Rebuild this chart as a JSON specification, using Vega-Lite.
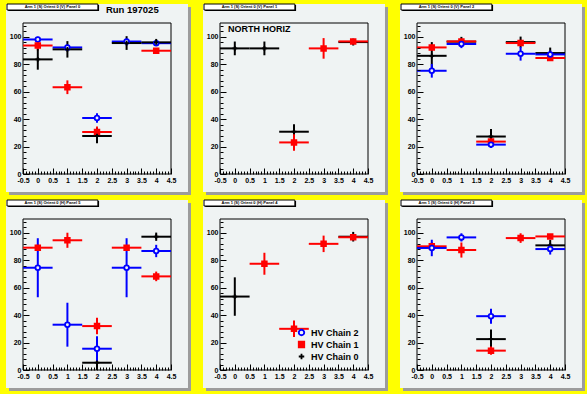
{
"$schema": "https://vega.github.io/schema/vega-lite/v6.json",
"background": "#ffff00",
"padding": {"left": 6, "top": 3, "right": 2, "bottom": 4},
"bounds": "flush",
"columns": 3,
"spacing": {"row": 45, "column": 49},
"datasets": {
"pts": [
{"p":1,"s":"HV Chain 2","x":0,"y":98,"ye":2,"xe":0.5},
{"p":1,"s":"HV Chain 2","x":1,"y":92.2,"ye":2,"xe":0.5},
{"p":1,"s":"HV Chain 2","x":2,"y":40.8,"ye":3.5,"xe":0.5},
{"p":1,"s":"HV Chain 2","x":3,"y":96.5,"ye":2,"xe":0.5},
{"p":1,"s":"HV Chain 2","x":4,"y":95.3,"ye":1.5,"xe":0.5},
{"p":1,"s":"HV Chain 1","x":0,"y":93.6,"ye":3.6,"xe":0.5},
{"p":1,"s":"HV Chain 1","x":1,"y":63.2,"ye":5,"xe":0.5},
{"p":1,"s":"HV Chain 1","x":2,"y":30.6,"ye":4,"xe":0.5},
{"p":1,"s":"HV Chain 1","x":4,"y":89.8,"ye":2,"xe":0.5},
{"p":1,"s":"HV Chain 0","x":0,"y":83.5,"ye":7.5,"xe":0.5},
{"p":1,"s":"HV Chain 0","x":1,"y":90.8,"ye":6,"xe":0.5},
{"p":1,"s":"HV Chain 0","x":2,"y":27.7,"ye":5.3,"xe":0.5},
{"p":1,"s":"HV Chain 0","x":3,"y":95.4,"ye":5,"xe":0.5},
{"p":1,"s":"HV Chain 0","x":4,"y":95.9,"ye":2.5,"xe":0.5},
{"p":2,"s":"HV Chain 0","x":0,"y":91.5,"ye":5,"xe":0.5},
{"p":2,"s":"HV Chain 0","x":1,"y":91.5,"ye":5,"xe":0.5},
{"p":2,"s":"HV Chain 0","x":2,"y":30.8,"ye":5.5,"xe":0.5},
{"p":2,"s":"HV Chain 0","x":4,"y":96.1,"ye":2.5,"xe":0.5},
{"p":2,"s":"HV Chain 1","x":2,"y":23,"ye":6,"xe":0.5},
{"p":2,"s":"HV Chain 1","x":3,"y":91.5,"ye":7.5,"xe":0.5},
{"p":2,"s":"HV Chain 1","x":4,"y":96.6,"ye":1.5,"xe":0.5},
{"p":3,"s":"HV Chain 0","x":0,"y":86.1,"ye":10,"xe":0.5},
{"p":3,"s":"HV Chain 0","x":1,"y":96.4,"ye":3.5,"xe":0.5},
{"p":3,"s":"HV Chain 0","x":2,"y":27.3,"ye":5.5,"xe":0.5},
{"p":3,"s":"HV Chain 0","x":3,"y":96.1,"ye":4,"xe":0.5},
{"p":3,"s":"HV Chain 0","x":4,"y":88.1,"ye":4,"xe":0.5},
{"p":3,"s":"HV Chain 1","x":0,"y":92.2,"ye":2,"xe":0.5},
{"p":3,"s":"HV Chain 1","x":1,"y":96.6,"ye":1.5,"xe":0.5},
{"p":3,"s":"HV Chain 1","x":2,"y":23.6,"ye":2,"xe":0.5},
{"p":3,"s":"HV Chain 1","x":3,"y":95.4,"ye":1.5,"xe":0.5},
{"p":3,"s":"HV Chain 1","x":4,"y":84.5,"ye":2,"xe":0.5},
{"p":3,"s":"HV Chain 2","x":0,"y":75.2,"ye":5,"xe":0.5},
{"p":3,"s":"HV Chain 2","x":1,"y":94.7,"ye":3,"xe":0.5},
{"p":3,"s":"HV Chain 2","x":2,"y":21.4,"ye":2.5,"xe":0.5},
{"p":3,"s":"HV Chain 2","x":3,"y":87.6,"ye":5,"xe":0.5},
{"p":3,"s":"HV Chain 2","x":4,"y":87.1,"ye":3,"xe":0.5},
{"p":4,"s":"HV Chain 0","x":2,"y":5.3,"ye":5.3,"xe":0.5},
{"p":4,"s":"HV Chain 0","x":4,"y":97.1,"ye":3,"xe":0.5},
{"p":4,"s":"HV Chain 1","x":0,"y":89.1,"ye":2.5,"xe":0.5},
{"p":4,"s":"HV Chain 1","x":1,"y":94.5,"ye":5.5,"xe":0.5},
{"p":4,"s":"HV Chain 1","x":2,"y":32,"ye":6,"xe":0.5},
{"p":4,"s":"HV Chain 1","x":3,"y":89.1,"ye":2,"xe":0.5},
{"p":4,"s":"HV Chain 1","x":4,"y":68.2,"ye":3.5,"xe":0.5},
{"p":4,"s":"HV Chain 2","x":0,"y":74.5,"ye":21.5,"xe":0.5},
{"p":4,"s":"HV Chain 2","x":1,"y":33,"ye":16,"xe":0.5},
{"p":4,"s":"HV Chain 2","x":2,"y":15.5,"ye":9,"xe":0.5},
{"p":4,"s":"HV Chain 2","x":3,"y":74.5,"ye":21.5,"xe":0.5},
{"p":4,"s":"HV Chain 2","x":4,"y":86.7,"ye":4.5,"xe":0.5},
{"p":5,"s":"HV Chain 0","x":0,"y":53.5,"ye":14,"xe":0.5},
{"p":5,"s":"HV Chain 0","x":4,"y":97.1,"ye":3.5,"xe":0.5},
{"p":5,"s":"HV Chain 1","x":1,"y":77.4,"ye":8,"xe":0.5},
{"p":5,"s":"HV Chain 1","x":2,"y":30,"ye":6,"xe":0.5},
{"p":5,"s":"HV Chain 1","x":3,"y":91.9,"ye":6,"xe":0.5},
{"p":5,"s":"HV Chain 1","x":4,"y":96.7,"ye":2,"xe":0.5},
{"p":6,"s":"HV Chain 0","x":2,"y":22.5,"ye":7,"xe":0.5},
{"p":6,"s":"HV Chain 0","x":4,"y":90.8,"ye":4,"xe":0.5},
{"p":6,"s":"HV Chain 1","x":0,"y":90.1,"ye":3,"xe":0.5},
{"p":6,"s":"HV Chain 1","x":1,"y":87.4,"ye":5.5,"xe":0.5},
{"p":6,"s":"HV Chain 1","x":2,"y":14.1,"ye":3,"xe":0.5},
{"p":6,"s":"HV Chain 1","x":3,"y":96.1,"ye":3.5,"xe":0.5},
{"p":6,"s":"HV Chain 1","x":4,"y":97.3,"ye":1.5,"xe":0.5},
{"p":6,"s":"HV Chain 2","x":0,"y":88.9,"ye":6,"xe":0.5},
{"p":6,"s":"HV Chain 2","x":1,"y":96.6,"ye":3,"xe":0.5},
{"p":6,"s":"HV Chain 2","x":2,"y":39.2,"ye":5.5,"xe":0.5},
{"p":6,"s":"HV Chain 2","x":4,"y":88.1,"ye":4,"xe":0.5}
]
},
"concat": [
{"width":148,"height":151,"layer":[
{"data":{"values":[{}]},"mark":{"type":"rect","fill":"#9c9c9c","clip":false},"encoding":{"x":{"datum":-0.973},"x2":{"datum":5.175},"y":{"datum":121.65},"y2":{"datum":-15.3}}},
{"data":{"values":[{}]},"mark":{"type":"rect","fill":"#eff3f3","clip":false},"encoding":{"x":{"datum":-1.074},"x2":{"datum":5.074},"y":{"datum":123.84},"y2":{"datum":-13.11}}},
{"data":{"values":[{}]},"mark":{"type":"rect","fill":"#000000","clip":false},"encoding":{"x":{"datum":-1.0},"x2":{"datum":2.07},"y":{"datum":123.1},"y2":{"datum":118.7}}},
{"data":{"values":[{}]},"mark":{"type":"rect","fill":"#ffffff","stroke":"#000000","strokeWidth":1,"clip":false},"encoding":{"x":{"datum":-1.04},"x2":{"datum":2.03},"y":{"datum":123.84},"y2":{"datum":119.47}}},
{"data":{"values":[{}]},"mark":{"type":"text","fontSize":4,"fontWeight":"bold","clip":false,"align":"center","baseline":"middle"},"encoding":{"x":{"datum":0.495},"y":{"datum":121.65},"text":{"value":"Arm 1 (S) Orient 0 (V) Panel 0"}}},
{"data":{"values":[{}]},"mark":{"type":"text","fontSize":9.5,"fontWeight":"bold","clip":false,"align":"left","baseline":"alphabetic"},"encoding":{"x":{"datum":2.3},"y":{"datum":117.1},"text":{"value":"Run 197025"}}},
{"data":{"values":[{}]},"mark":{"type":"rect","fill":null,"stroke":"#000000","strokeWidth":1,"clip":false},"encoding":{"x":{"datum":-0.5},"x2":{"datum":4.5},"y":{"datum":110},"y2":{"datum":0}}},
{"data":{"name":"pts"},"transform":[{"filter":"datum.p == 1"}],"mark":{"type":"errorbar","thickness":2},"encoding":{"x":{"field":"x","type":"quantitative"},"xError":{"field":"xe"},"y":{"field":"y","type":"quantitative"},"color":{"field":"s","type":"nominal","legend":null}}},
{"data":{"name":"pts"},"transform":[{"filter":"datum.p == 1"}],"mark":{"type":"errorbar","thickness":2},"encoding":{"y":{"field":"y","type":"quantitative"},"yError":{"field":"ye"},"x":{"field":"x","type":"quantitative"},"color":{"field":"s","type":"nominal","legend":null}}},
{"data":{"name":"pts"},"transform":[{"filter":"datum.p == 1"}],"mark":{"type":"point","filled":false,"strokeWidth":1.8,"size":22,"opacity":1},"encoding":{
"x":{"field":"x","type":"quantitative","scale":{"domain":[-0.5,4.5],"nice":false,"zero":false},"axis":{"title":null,"zindex":2,"tickCount":200,"labelOverlap":false,"labelPadding":8,"values":[-0.5,-0.4,-0.3,-0.2,-0.1,0,0.1,0.2,0.3,0.4,0.5,0.6,0.7,0.8,0.9,1,1.1,1.2,1.3,1.4,1.5,1.6,1.7,1.8,1.9,2,2.1,2.2,2.3,2.4,2.5,2.6,2.7,2.8,2.9,3,3.1,3.2,3.3,3.4,3.5,3.6,3.7,3.8,3.9,4,4.1,4.2,4.3,4.4,4.5],"labelExpr":"abs(datum.value*2-round(datum.value*2))<0.001 ? '' + datum.value : ''","tickSize":{"condition":{"test":"abs(datum.value*2-round(datum.value*2))<0.001","value":-6},"value":-3}}},
"y":{"field":"y","type":"quantitative","scale":{"domain":[0,110],"nice":false,"zero":false},"axis":{"title":null,"zindex":2,"tickCount":200,"labelOverlap":false,"labelPadding":8,"values":[0,4,8,12,16,20,24,28,32,36,40,44,48,52,56,60,64,68,72,76,80,84,88,92,96,100,104,108],"labelExpr":"datum.value % 20 === 0 ? '' + datum.value : ''","tickSize":{"condition":{"test":"datum.value % 20 === 0","value":-6},"value":-3}}},
"color":{"field":"s","type":"nominal","scale":{"domain":["HV Chain 2","HV Chain 1","HV Chain 0"],"range":["#0000ff","#ff0000","#000000"]},"legend":null},
"fill":{"field":"s","type":"nominal","scale":{"domain":["HV Chain 2","HV Chain 1","HV Chain 0"],"range":["#eff3f3","#ff0000","#000000"]},"legend":null},
"shape":{"field":"s","type":"nominal","scale":{"domain":["HV Chain 2","HV Chain 1","HV Chain 0"],"range":["circle","square","M-1,0L1,0M0,-1L0,1"]},"legend":null}}}
]},
{"width":148,"height":151,"layer":[
{"data":{"values":[{}]},"mark":{"type":"rect","fill":"#9c9c9c","clip":false},"encoding":{"x":{"datum":-0.973},"x2":{"datum":5.175},"y":{"datum":121.65},"y2":{"datum":-15.3}}},
{"data":{"values":[{}]},"mark":{"type":"rect","fill":"#eff3f3","clip":false},"encoding":{"x":{"datum":-1.074},"x2":{"datum":5.074},"y":{"datum":123.84},"y2":{"datum":-13.11}}},
{"data":{"values":[{}]},"mark":{"type":"rect","fill":"#000000","clip":false},"encoding":{"x":{"datum":-1.0},"x2":{"datum":2.07},"y":{"datum":123.1},"y2":{"datum":118.7}}},
{"data":{"values":[{}]},"mark":{"type":"rect","fill":"#ffffff","stroke":"#000000","strokeWidth":1,"clip":false},"encoding":{"x":{"datum":-1.04},"x2":{"datum":2.03},"y":{"datum":123.84},"y2":{"datum":119.47}}},
{"data":{"values":[{}]},"mark":{"type":"text","fontSize":4,"fontWeight":"bold","clip":false,"align":"center","baseline":"middle"},"encoding":{"x":{"datum":0.495},"y":{"datum":121.65},"text":{"value":"Arm 1 (S) Orient 0 (V) Panel 1"}}},
{"data":{"values":[{}]},"mark":{"type":"text","fontSize":9,"fontWeight":"bold","clip":false,"align":"left","baseline":"alphabetic"},"encoding":{"x":{"datum":-0.23},"y":{"datum":103.4},"text":{"value":"NORTH HORIZ"}}},
{"data":{"values":[{}]},"mark":{"type":"rect","fill":null,"stroke":"#000000","strokeWidth":1,"clip":false},"encoding":{"x":{"datum":-0.5},"x2":{"datum":4.5},"y":{"datum":110},"y2":{"datum":0}}},
{"data":{"name":"pts"},"transform":[{"filter":"datum.p == 2"}],"mark":{"type":"errorbar","thickness":2},"encoding":{"x":{"field":"x","type":"quantitative"},"xError":{"field":"xe"},"y":{"field":"y","type":"quantitative"},"color":{"field":"s","type":"nominal","legend":null}}},
{"data":{"name":"pts"},"transform":[{"filter":"datum.p == 2"}],"mark":{"type":"errorbar","thickness":2},"encoding":{"y":{"field":"y","type":"quantitative"},"yError":{"field":"ye"},"x":{"field":"x","type":"quantitative"},"color":{"field":"s","type":"nominal","legend":null}}},
{"data":{"name":"pts"},"transform":[{"filter":"datum.p == 2"}],"mark":{"type":"point","filled":false,"strokeWidth":1.8,"size":22,"opacity":1},"encoding":{
"x":{"field":"x","type":"quantitative","scale":{"domain":[-0.5,4.5],"nice":false,"zero":false},"axis":{"title":null,"zindex":2,"tickCount":200,"labelOverlap":false,"labelPadding":8,"values":[-0.5,-0.4,-0.3,-0.2,-0.1,0,0.1,0.2,0.3,0.4,0.5,0.6,0.7,0.8,0.9,1,1.1,1.2,1.3,1.4,1.5,1.6,1.7,1.8,1.9,2,2.1,2.2,2.3,2.4,2.5,2.6,2.7,2.8,2.9,3,3.1,3.2,3.3,3.4,3.5,3.6,3.7,3.8,3.9,4,4.1,4.2,4.3,4.4,4.5],"labelExpr":"abs(datum.value*2-round(datum.value*2))<0.001 ? '' + datum.value : ''","tickSize":{"condition":{"test":"abs(datum.value*2-round(datum.value*2))<0.001","value":-6},"value":-3}}},
"y":{"field":"y","type":"quantitative","scale":{"domain":[0,110],"nice":false,"zero":false},"axis":{"title":null,"zindex":2,"tickCount":200,"labelOverlap":false,"labelPadding":8,"values":[0,4,8,12,16,20,24,28,32,36,40,44,48,52,56,60,64,68,72,76,80,84,88,92,96,100,104,108],"labelExpr":"datum.value % 20 === 0 ? '' + datum.value : ''","tickSize":{"condition":{"test":"datum.value % 20 === 0","value":-6},"value":-3}}},
"color":{"field":"s","type":"nominal","scale":{"domain":["HV Chain 2","HV Chain 1","HV Chain 0"],"range":["#0000ff","#ff0000","#000000"]},"legend":null},
"fill":{"field":"s","type":"nominal","scale":{"domain":["HV Chain 2","HV Chain 1","HV Chain 0"],"range":["#eff3f3","#ff0000","#000000"]},"legend":null},
"shape":{"field":"s","type":"nominal","scale":{"domain":["HV Chain 2","HV Chain 1","HV Chain 0"],"range":["circle","square","M-1,0L1,0M0,-1L0,1"]},"legend":null}}}
]},
{"width":148,"height":151,"layer":[
{"data":{"values":[{}]},"mark":{"type":"rect","fill":"#9c9c9c","clip":false},"encoding":{"x":{"datum":-0.973},"x2":{"datum":5.175},"y":{"datum":121.65},"y2":{"datum":-15.3}}},
{"data":{"values":[{}]},"mark":{"type":"rect","fill":"#eff3f3","clip":false},"encoding":{"x":{"datum":-1.074},"x2":{"datum":5.074},"y":{"datum":123.84},"y2":{"datum":-13.11}}},
{"data":{"values":[{}]},"mark":{"type":"rect","fill":"#000000","clip":false},"encoding":{"x":{"datum":-1.0},"x2":{"datum":2.07},"y":{"datum":123.1},"y2":{"datum":118.7}}},
{"data":{"values":[{}]},"mark":{"type":"rect","fill":"#ffffff","stroke":"#000000","strokeWidth":1,"clip":false},"encoding":{"x":{"datum":-1.04},"x2":{"datum":2.03},"y":{"datum":123.84},"y2":{"datum":119.47}}},
{"data":{"values":[{}]},"mark":{"type":"text","fontSize":4,"fontWeight":"bold","clip":false,"align":"center","baseline":"middle"},"encoding":{"x":{"datum":0.495},"y":{"datum":121.65},"text":{"value":"Arm 1 (S) Orient 0 (V) Panel 2"}}},
{"data":{"values":[{}]},"mark":{"type":"rect","fill":null,"stroke":"#000000","strokeWidth":1,"clip":false},"encoding":{"x":{"datum":-0.5},"x2":{"datum":4.5},"y":{"datum":110},"y2":{"datum":0}}},
{"data":{"name":"pts"},"transform":[{"filter":"datum.p == 3"}],"mark":{"type":"errorbar","thickness":2},"encoding":{"x":{"field":"x","type":"quantitative"},"xError":{"field":"xe"},"y":{"field":"y","type":"quantitative"},"color":{"field":"s","type":"nominal","legend":null}}},
{"data":{"name":"pts"},"transform":[{"filter":"datum.p == 3"}],"mark":{"type":"errorbar","thickness":2},"encoding":{"y":{"field":"y","type":"quantitative"},"yError":{"field":"ye"},"x":{"field":"x","type":"quantitative"},"color":{"field":"s","type":"nominal","legend":null}}},
{"data":{"name":"pts"},"transform":[{"filter":"datum.p == 3"}],"mark":{"type":"point","filled":false,"strokeWidth":1.8,"size":22,"opacity":1},"encoding":{
"x":{"field":"x","type":"quantitative","scale":{"domain":[-0.5,4.5],"nice":false,"zero":false},"axis":{"title":null,"zindex":2,"tickCount":200,"labelOverlap":false,"labelPadding":8,"values":[-0.5,-0.4,-0.3,-0.2,-0.1,0,0.1,0.2,0.3,0.4,0.5,0.6,0.7,0.8,0.9,1,1.1,1.2,1.3,1.4,1.5,1.6,1.7,1.8,1.9,2,2.1,2.2,2.3,2.4,2.5,2.6,2.7,2.8,2.9,3,3.1,3.2,3.3,3.4,3.5,3.6,3.7,3.8,3.9,4,4.1,4.2,4.3,4.4,4.5],"labelExpr":"abs(datum.value*2-round(datum.value*2))<0.001 ? '' + datum.value : ''","tickSize":{"condition":{"test":"abs(datum.value*2-round(datum.value*2))<0.001","value":-6},"value":-3}}},
"y":{"field":"y","type":"quantitative","scale":{"domain":[0,110],"nice":false,"zero":false},"axis":{"title":null,"zindex":2,"tickCount":200,"labelOverlap":false,"labelPadding":8,"values":[0,4,8,12,16,20,24,28,32,36,40,44,48,52,56,60,64,68,72,76,80,84,88,92,96,100,104,108],"labelExpr":"datum.value % 20 === 0 ? '' + datum.value : ''","tickSize":{"condition":{"test":"datum.value % 20 === 0","value":-6},"value":-3}}},
"color":{"field":"s","type":"nominal","scale":{"domain":["HV Chain 2","HV Chain 1","HV Chain 0"],"range":["#0000ff","#ff0000","#000000"]},"legend":null},
"fill":{"field":"s","type":"nominal","scale":{"domain":["HV Chain 2","HV Chain 1","HV Chain 0"],"range":["#eff3f3","#ff0000","#000000"]},"legend":null},
"shape":{"field":"s","type":"nominal","scale":{"domain":["HV Chain 2","HV Chain 1","HV Chain 0"],"range":["circle","square","M-1,0L1,0M0,-1L0,1"]},"legend":null}}}
]},
{"width":148,"height":151,"layer":[
{"data":{"values":[{}]},"mark":{"type":"rect","fill":"#9c9c9c","clip":false},"encoding":{"x":{"datum":-0.973},"x2":{"datum":5.175},"y":{"datum":121.65},"y2":{"datum":-15.3}}},
{"data":{"values":[{}]},"mark":{"type":"rect","fill":"#eff3f3","clip":false},"encoding":{"x":{"datum":-1.074},"x2":{"datum":5.074},"y":{"datum":123.84},"y2":{"datum":-13.11}}},
{"data":{"values":[{}]},"mark":{"type":"rect","fill":"#000000","clip":false},"encoding":{"x":{"datum":-1.0},"x2":{"datum":2.07},"y":{"datum":123.1},"y2":{"datum":118.7}}},
{"data":{"values":[{}]},"mark":{"type":"rect","fill":"#ffffff","stroke":"#000000","strokeWidth":1,"clip":false},"encoding":{"x":{"datum":-1.04},"x2":{"datum":2.03},"y":{"datum":123.84},"y2":{"datum":119.47}}},
{"data":{"values":[{}]},"mark":{"type":"text","fontSize":4,"fontWeight":"bold","clip":false,"align":"center","baseline":"middle"},"encoding":{"x":{"datum":0.495},"y":{"datum":121.65},"text":{"value":"Arm 1 (S) Orient 0 (H) Panel 5"}}},
{"data":{"values":[{}]},"mark":{"type":"rect","fill":null,"stroke":"#000000","strokeWidth":1,"clip":false},"encoding":{"x":{"datum":-0.5},"x2":{"datum":4.5},"y":{"datum":110},"y2":{"datum":0}}},
{"data":{"name":"pts"},"transform":[{"filter":"datum.p == 4"}],"mark":{"type":"errorbar","thickness":2},"encoding":{"x":{"field":"x","type":"quantitative"},"xError":{"field":"xe"},"y":{"field":"y","type":"quantitative"},"color":{"field":"s","type":"nominal","legend":null}}},
{"data":{"name":"pts"},"transform":[{"filter":"datum.p == 4"}],"mark":{"type":"errorbar","thickness":2},"encoding":{"y":{"field":"y","type":"quantitative"},"yError":{"field":"ye"},"x":{"field":"x","type":"quantitative"},"color":{"field":"s","type":"nominal","legend":null}}},
{"data":{"name":"pts"},"transform":[{"filter":"datum.p == 4"}],"mark":{"type":"point","filled":false,"strokeWidth":1.8,"size":22,"opacity":1},"encoding":{
"x":{"field":"x","type":"quantitative","scale":{"domain":[-0.5,4.5],"nice":false,"zero":false},"axis":{"title":null,"zindex":2,"tickCount":200,"labelOverlap":false,"labelPadding":8,"values":[-0.5,-0.4,-0.3,-0.2,-0.1,0,0.1,0.2,0.3,0.4,0.5,0.6,0.7,0.8,0.9,1,1.1,1.2,1.3,1.4,1.5,1.6,1.7,1.8,1.9,2,2.1,2.2,2.3,2.4,2.5,2.6,2.7,2.8,2.9,3,3.1,3.2,3.3,3.4,3.5,3.6,3.7,3.8,3.9,4,4.1,4.2,4.3,4.4,4.5],"labelExpr":"abs(datum.value*2-round(datum.value*2))<0.001 ? '' + datum.value : ''","tickSize":{"condition":{"test":"abs(datum.value*2-round(datum.value*2))<0.001","value":-6},"value":-3}}},
"y":{"field":"y","type":"quantitative","scale":{"domain":[0,110],"nice":false,"zero":false},"axis":{"title":null,"zindex":2,"tickCount":200,"labelOverlap":false,"labelPadding":8,"values":[0,4,8,12,16,20,24,28,32,36,40,44,48,52,56,60,64,68,72,76,80,84,88,92,96,100,104,108],"labelExpr":"datum.value % 20 === 0 ? '' + datum.value : ''","tickSize":{"condition":{"test":"datum.value % 20 === 0","value":-6},"value":-3}}},
"color":{"field":"s","type":"nominal","scale":{"domain":["HV Chain 2","HV Chain 1","HV Chain 0"],"range":["#0000ff","#ff0000","#000000"]},"legend":null},
"fill":{"field":"s","type":"nominal","scale":{"domain":["HV Chain 2","HV Chain 1","HV Chain 0"],"range":["#eff3f3","#ff0000","#000000"]},"legend":null},
"shape":{"field":"s","type":"nominal","scale":{"domain":["HV Chain 2","HV Chain 1","HV Chain 0"],"range":["circle","square","M-1,0L1,0M0,-1L0,1"]},"legend":null}}}
]},
{"width":148,"height":151,"resolve":{"legend":{"color":"independent","fill":"independent","shape":"independent"}},"layer":[
{"data":{"values":[{}]},"mark":{"type":"rect","fill":"#9c9c9c","clip":false},"encoding":{"x":{"datum":-0.973},"x2":{"datum":5.175},"y":{"datum":121.65},"y2":{"datum":-15.3}}},
{"data":{"values":[{}]},"mark":{"type":"rect","fill":"#eff3f3","clip":false},"encoding":{"x":{"datum":-1.074},"x2":{"datum":5.074},"y":{"datum":123.84},"y2":{"datum":-13.11}}},
{"data":{"values":[{}]},"mark":{"type":"rect","fill":"#000000","clip":false},"encoding":{"x":{"datum":-1.0},"x2":{"datum":2.07},"y":{"datum":123.1},"y2":{"datum":118.7}}},
{"data":{"values":[{}]},"mark":{"type":"rect","fill":"#ffffff","stroke":"#000000","strokeWidth":1,"clip":false},"encoding":{"x":{"datum":-1.04},"x2":{"datum":2.03},"y":{"datum":123.84},"y2":{"datum":119.47}}},
{"data":{"values":[{}]},"mark":{"type":"text","fontSize":4,"fontWeight":"bold","clip":false,"align":"center","baseline":"middle"},"encoding":{"x":{"datum":0.495},"y":{"datum":121.65},"text":{"value":"Arm 1 (S) Orient 0 (H) Panel 4"}}},
{"data":{"values":[{}]},"mark":{"type":"rect","fill":null,"stroke":"#000000","strokeWidth":1,"clip":false},"encoding":{"x":{"datum":-0.5},"x2":{"datum":4.5},"y":{"datum":110},"y2":{"datum":0}}},
{"data":{"name":"pts"},"transform":[{"filter":"datum.p == 5"}],"mark":{"type":"errorbar","thickness":2},"encoding":{"x":{"field":"x","type":"quantitative"},"xError":{"field":"xe"},"y":{"field":"y","type":"quantitative"},"color":{"field":"s","type":"nominal","legend":null}}},
{"data":{"name":"pts"},"transform":[{"filter":"datum.p == 5"}],"mark":{"type":"errorbar","thickness":2},"encoding":{"y":{"field":"y","type":"quantitative"},"yError":{"field":"ye"},"x":{"field":"x","type":"quantitative"},"color":{"field":"s","type":"nominal","legend":null}}},
{"data":{"name":"pts"},"transform":[{"filter":"datum.p == 5"}],"mark":{"type":"point","filled":false,"strokeWidth":1.8,"size":22,"opacity":1},"encoding":{
"x":{"field":"x","type":"quantitative","scale":{"domain":[-0.5,4.5],"nice":false,"zero":false},"axis":{"title":null,"zindex":2,"tickCount":200,"labelOverlap":false,"labelPadding":8,"values":[-0.5,-0.4,-0.3,-0.2,-0.1,0,0.1,0.2,0.3,0.4,0.5,0.6,0.7,0.8,0.9,1,1.1,1.2,1.3,1.4,1.5,1.6,1.7,1.8,1.9,2,2.1,2.2,2.3,2.4,2.5,2.6,2.7,2.8,2.9,3,3.1,3.2,3.3,3.4,3.5,3.6,3.7,3.8,3.9,4,4.1,4.2,4.3,4.4,4.5],"labelExpr":"abs(datum.value*2-round(datum.value*2))<0.001 ? '' + datum.value : ''","tickSize":{"condition":{"test":"abs(datum.value*2-round(datum.value*2))<0.001","value":-6},"value":-3}}},
"y":{"field":"y","type":"quantitative","scale":{"domain":[0,110],"nice":false,"zero":false},"axis":{"title":null,"zindex":2,"tickCount":200,"labelOverlap":false,"labelPadding":8,"values":[0,4,8,12,16,20,24,28,32,36,40,44,48,52,56,60,64,68,72,76,80,84,88,92,96,100,104,108],"labelExpr":"datum.value % 20 === 0 ? '' + datum.value : ''","tickSize":{"condition":{"test":"datum.value % 20 === 0","value":-6},"value":-3}}},
"color":{"field":"s","type":"nominal","scale":{"domain":["HV Chain 2","HV Chain 1","HV Chain 0"],"range":["#0000ff","#ff0000","#000000"]},"legend":{"title":null,"zindex":2,"orient":"none","legendX":77,"legendY":109,"labelOffset":5,"rowPadding":-1,"encode":{"labels":{"update":{"fill":{"signal":"datum.value === 'HV Chain 2' ? '#0000ff' : datum.value === 'HV Chain 1' ? '#ff0000' : '#000000'"}}}}}},
"fill":{"field":"s","type":"nominal","scale":{"domain":["HV Chain 2","HV Chain 1","HV Chain 0"],"range":["#eff3f3","#ff0000","#000000"]},"legend":{"title":null,"zindex":2,"orient":"none","legendX":77,"legendY":109,"labelOffset":5,"rowPadding":-1,"encode":{"labels":{"update":{"fill":{"signal":"datum.value === 'HV Chain 2' ? '#0000ff' : datum.value === 'HV Chain 1' ? '#ff0000' : '#000000'"}}}}}},
"shape":{"field":"s","type":"nominal","scale":{"domain":["HV Chain 2","HV Chain 1","HV Chain 0"],"range":["circle","square","M-1,0L1,0M0,-1L0,1"]},"legend":{"title":null,"zindex":2,"orient":"none","legendX":77,"legendY":109,"labelOffset":5,"rowPadding":-1,"encode":{"labels":{"update":{"fill":{"signal":"datum.value === 'HV Chain 2' ? '#0000ff' : datum.value === 'HV Chain 1' ? '#ff0000' : '#000000'"}}}}}}}}
]},
{"width":148,"height":151,"layer":[
{"data":{"values":[{}]},"mark":{"type":"rect","fill":"#9c9c9c","clip":false},"encoding":{"x":{"datum":-0.973},"x2":{"datum":5.175},"y":{"datum":121.65},"y2":{"datum":-15.3}}},
{"data":{"values":[{}]},"mark":{"type":"rect","fill":"#eff3f3","clip":false},"encoding":{"x":{"datum":-1.074},"x2":{"datum":5.074},"y":{"datum":123.84},"y2":{"datum":-13.11}}},
{"data":{"values":[{}]},"mark":{"type":"rect","fill":"#000000","clip":false},"encoding":{"x":{"datum":-1.0},"x2":{"datum":2.07},"y":{"datum":123.1},"y2":{"datum":118.7}}},
{"data":{"values":[{}]},"mark":{"type":"rect","fill":"#ffffff","stroke":"#000000","strokeWidth":1,"clip":false},"encoding":{"x":{"datum":-1.04},"x2":{"datum":2.03},"y":{"datum":123.84},"y2":{"datum":119.47}}},
{"data":{"values":[{}]},"mark":{"type":"text","fontSize":4,"fontWeight":"bold","clip":false,"align":"center","baseline":"middle"},"encoding":{"x":{"datum":0.495},"y":{"datum":121.65},"text":{"value":"Arm 1 (S) Orient 0 (H) Panel 3"}}},
{"data":{"values":[{}]},"mark":{"type":"rect","fill":null,"stroke":"#000000","strokeWidth":1,"clip":false},"encoding":{"x":{"datum":-0.5},"x2":{"datum":4.5},"y":{"datum":110},"y2":{"datum":0}}},
{"data":{"name":"pts"},"transform":[{"filter":"datum.p == 6"}],"mark":{"type":"errorbar","thickness":2},"encoding":{"x":{"field":"x","type":"quantitative"},"xError":{"field":"xe"},"y":{"field":"y","type":"quantitative"},"color":{"field":"s","type":"nominal","legend":null}}},
{"data":{"name":"pts"},"transform":[{"filter":"datum.p == 6"}],"mark":{"type":"errorbar","thickness":2},"encoding":{"y":{"field":"y","type":"quantitative"},"yError":{"field":"ye"},"x":{"field":"x","type":"quantitative"},"color":{"field":"s","type":"nominal","legend":null}}},
{"data":{"name":"pts"},"transform":[{"filter":"datum.p == 6"}],"mark":{"type":"point","filled":false,"strokeWidth":1.8,"size":22,"opacity":1},"encoding":{
"x":{"field":"x","type":"quantitative","scale":{"domain":[-0.5,4.5],"nice":false,"zero":false},"axis":{"title":null,"zindex":2,"tickCount":200,"labelOverlap":false,"labelPadding":8,"values":[-0.5,-0.4,-0.3,-0.2,-0.1,0,0.1,0.2,0.3,0.4,0.5,0.6,0.7,0.8,0.9,1,1.1,1.2,1.3,1.4,1.5,1.6,1.7,1.8,1.9,2,2.1,2.2,2.3,2.4,2.5,2.6,2.7,2.8,2.9,3,3.1,3.2,3.3,3.4,3.5,3.6,3.7,3.8,3.9,4,4.1,4.2,4.3,4.4,4.5],"labelExpr":"abs(datum.value*2-round(datum.value*2))<0.001 ? '' + datum.value : ''","tickSize":{"condition":{"test":"abs(datum.value*2-round(datum.value*2))<0.001","value":-6},"value":-3}}},
"y":{"field":"y","type":"quantitative","scale":{"domain":[0,110],"nice":false,"zero":false},"axis":{"title":null,"zindex":2,"tickCount":200,"labelOverlap":false,"labelPadding":8,"values":[0,4,8,12,16,20,24,28,32,36,40,44,48,52,56,60,64,68,72,76,80,84,88,92,96,100,104,108],"labelExpr":"datum.value % 20 === 0 ? '' + datum.value : ''","tickSize":{"condition":{"test":"datum.value % 20 === 0","value":-6},"value":-3}}},
"color":{"field":"s","type":"nominal","scale":{"domain":["HV Chain 2","HV Chain 1","HV Chain 0"],"range":["#0000ff","#ff0000","#000000"]},"legend":null},
"fill":{"field":"s","type":"nominal","scale":{"domain":["HV Chain 2","HV Chain 1","HV Chain 0"],"range":["#eff3f3","#ff0000","#000000"]},"legend":null},
"shape":{"field":"s","type":"nominal","scale":{"domain":["HV Chain 2","HV Chain 1","HV Chain 0"],"range":["circle","square","M-1,0L1,0M0,-1L0,1"]},"legend":null}}}
]}
],
"resolve": {"scale": {"x":"independent","y":"independent","color":"independent","fill":"independent","shape":"independent"}, "legend": {"color":"independent","fill":"independent","shape":"independent"}},
"config": {
"view": {"stroke": null},
"font": "Liberation Sans",
"axis": {"domain": false, "grid": false, "labelFont": "Liberation Sans", "labelFontWeight": "bold", "labelFontSize": 7, "labelColor": "#000000", "tickColor": "#000000", "tickWidth": 1, "labelFlush": false},
"legend": {"padding": 0, "labelFont": "Liberation Sans", "labelFontWeight": "bold", "labelFontSize": 9, "symbolSize": 30, "symbolStrokeWidth": 1.8}
}
}
